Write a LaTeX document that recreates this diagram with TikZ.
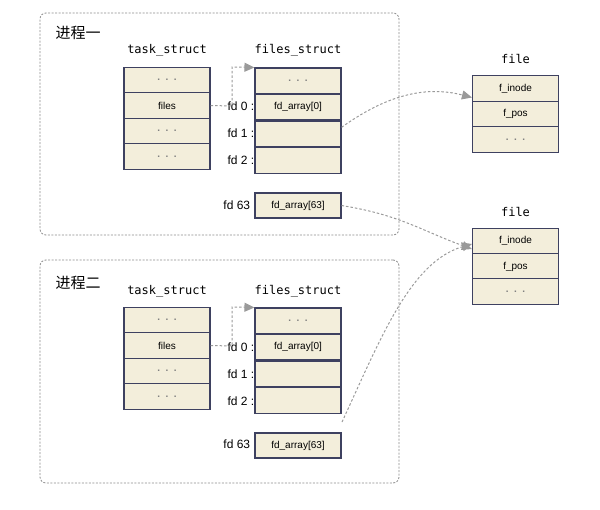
\documentclass[tikz,border=0pt]{standalone}
\usepackage{fontspec}
\setmainfont{Liberation Sans}
\setmonofont{DejaVu Sans Mono}
\newfontfamily\cjk{Noto Sans CJK SC}
\usetikzlibrary{arrows.meta}
\definecolor{cellfill}{HTML}{F3EEDB}
\definecolor{celldraw}{HTML}{3E4160}
\definecolor{linegray}{HTML}{9A9A9A}
\definecolor{boxgray}{HTML}{8A8A8A}
\tikzset{
  cell/.style={rectangle,draw=celldraw,fill=cellfill,line width=1.1pt,minimum width=86pt,minimum height=25.5pt,inner sep=0pt,font=\fontsize{10}{12}\selectfont},
  title/.style={font=\ttfamily\fontsize{12}{14}\selectfont,inner sep=0pt},
  fdlab/.style={anchor=east,inner sep=0pt,font=\fontsize{12}{14}\selectfont},
  proc/.style={draw=boxgray,line width=0.8pt,dash pattern=on 2pt off 1.5pt,rounded corners=6pt},
  ptitle/.style={font=\cjk\fontsize{15}{17}\selectfont,inner sep=0pt},
  link/.style={draw=linegray,line width=1pt,dash pattern=on 2.5pt off 2pt,-{Triangle[length=10pt,width=9pt,fill=linegray]}},
  sep/.style={draw=celldraw,line width=2.4pt}
}
\newcommand{\dotsx}{\textcolor{gray}{\textbf{.\ \ .\ \ .}}}
\begin{document}
\begin{tikzpicture}[x=1pt,y=-1pt]
\useasboundingbox (0,0) rectangle (600,509);
% process boxes
\node[proc,minimum width=359pt,minimum height=222pt,inner sep=0pt] (p1box) at (219.5,124) {};
\node[proc,minimum width=359pt,minimum height=223pt,inner sep=0pt] (p2box) at (219.5,371.5) {};
\node[ptitle] (p1t) at (78,33) {进程一};
\node[ptitle] (p2t) at (78,283) {进程二};
% ---------- fd labels ----------
\node[fdlab] (l10) at (254.5,106) {fd 0 :};
\node[fdlab] (l11) at (254.5,133) {fd 1 :};
\node[fdlab] (l12) at (254.5,160) {fd 2 :};
\node[fdlab] (l13) at (257,205) {fd 63 :};
\node[fdlab] (l20) at (254.5,347) {fd 0 :};
\node[fdlab] (l21) at (254.5,374) {fd 1 :};
\node[fdlab] (l22) at (254.5,401) {fd 2 :};
\node[fdlab] (l23) at (257,444) {fd 63 :};
% ---------- process 1 ----------
\node[title] (t1) at (167,50) {task\_struct};
\node[title] (f1) at (298,50) {files\_struct};
\node[cell] (a1) at (167,80) {\dotsx};
\node[cell] (a2) at (167,105.5) {files};
\node[cell] (a3) at (167,131) {\dotsx};
\node[cell] (a4) at (167,156.5) {\dotsx};
\node[cell,minimum height=26pt] (b1) at (298,81) {\dotsx};
\node[cell,minimum height=26pt] (b2) at (298,107) {fd\_array[0]};
\node[cell,minimum height=26.5pt] (b3) at (298,133.3) {};
\node[cell,minimum height=26.5pt] (b4) at (298,160) {};
\draw[sep] (b2.south west) -- (b2.south east);
\draw[sep] (b3.south west) -- (b3.south east);
\node[cell,minimum height=25pt] (b5) at (298,205.5) {fd\_array[63]};
% ---------- process 2 ----------
\node[title] (t2) at (167,291) {task\_struct};
\node[title] (f2) at (298,291) {files\_struct};
\node[cell] (c1) at (167,320) {\dotsx};
\node[cell] (c2) at (167,345.5) {files};
\node[cell] (c3) at (167,371) {\dotsx};
\node[cell] (c4) at (167,396.5) {\dotsx};
\node[cell,minimum height=26pt] (d1) at (298,321) {\dotsx};
\node[cell,minimum height=26pt] (d2) at (298,347) {fd\_array[0]};
\node[cell,minimum height=26.5pt] (d3) at (298,373.3) {};
\node[cell,minimum height=26.5pt] (d4) at (298,400) {};
\draw[sep] (d2.south west) -- (d2.south east);
\draw[sep] (d3.south west) -- (d3.south east);
\node[cell,minimum height=25pt] (d5) at (298,445.5) {fd\_array[63]};
% ---------- files ----------
\node[title] (ft1) at (515.5,59) {file};
\node[cell] (e1) at (515.5,88.5) {f\_inode};
\node[cell] (e2) at (515.5,114) {f\_pos};
\node[cell] (e3) at (515.5,139.5) {\dotsx};
\node[title] (ft2) at (515.5,212) {file};
\node[cell] (g1) at (515.5,241) {f\_inode};
\node[cell] (g2) at (515.5,266.5) {f\_pos};
\node[cell] (g3) at (515.5,291.5) {\dotsx};
% ---------- links ----------
\coordinate (k1) at (232,106);
\coordinate (k2) at (232,67);
\coordinate (k3) at (232,346);
\coordinate (k4) at (232,307);
\coordinate (s2) at (342,422);
\draw[link] (a2.east) -- (k1) -- (k2) -- (b1.north west);
\draw[link] (c2.east) -- (k3) -- (k4) -- (d1.north west);
\draw[link] ([yshift=6pt]b3.east) .. controls (380,100) and (420,84) .. ([yshift=-9pt]e1.west);
\draw[link] (b5.east) .. controls (400,215) and (420,230) .. ([yshift=-8pt]g1.west);
\draw[link] (s2) .. controls (380,340) and (410,262) .. ([yshift=-3pt]g1.west);
\end{tikzpicture}
\end{document}
